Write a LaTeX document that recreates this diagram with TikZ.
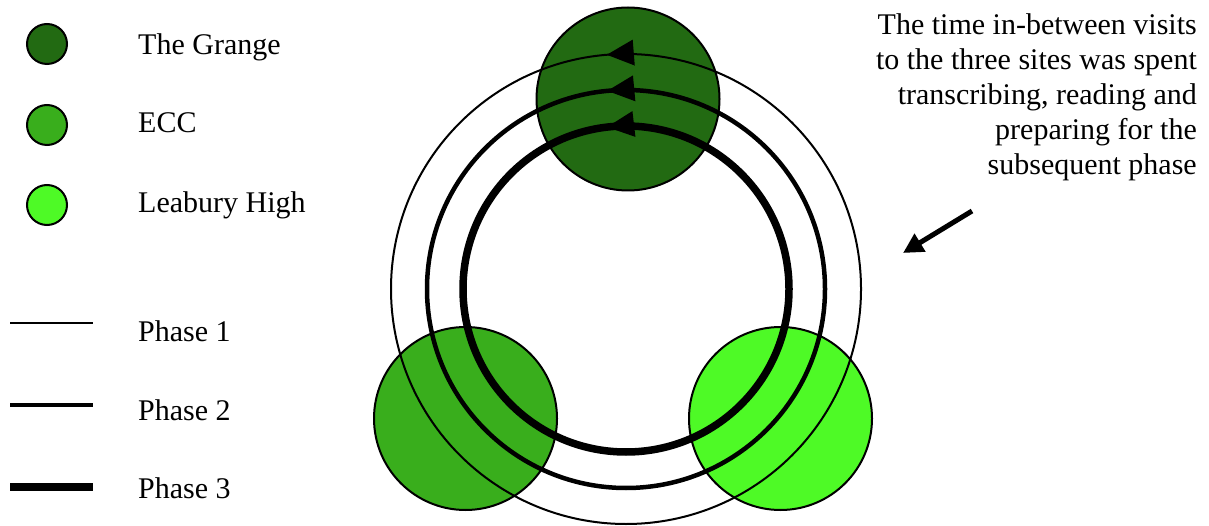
\documentclass[tikz,border=0pt]{standalone}
\usepackage{fontspec}
\setmainfont{Liberation Serif}
\usetikzlibrary{arrows.meta,decorations.markings}
\definecolor{grange}{RGB}{34,106,18}
\definecolor{ecc}{RGB}{57,174,28}
\definecolor{leabury}{RGB}{78,250,38}
\begin{document}
\begin{tikzpicture}[x=1pt,y=1pt,
  site/.style={circle,draw=black,line width=2pt,inner sep=0pt,minimum size=183pt},
  legsite/.style={circle,draw=black,line width=2pt,inner sep=0pt,minimum size=40pt},
  lab/.style={anchor=base west,inner sep=0pt,font=\fontsize{30}{35}\selectfont},
  phaseone/.style={line width=2pt},
  phasetwo/.style={line width=4.5pt},
  phasethree/.style={line width=7.5pt},
  tip/.style={decoration={markings,mark=at position #1 with {\arrow[line width=0pt]{Triangle[length=27pt,width=26pt]}}},postaction={decorate}}
]
\useasboundingbox (0,0) rectangle (1209,525);
% sites
\node[site,fill=grange] (grange) at (628,426) {};
\node[site,fill=ecc] (ecc) at (465.5,106.5) {};
\node[site,fill=leabury] (leabury) at (780.5,106.5) {};
% rings
\coordinate (c) at (626,236);
\draw[phaseone,tip=0.263] (c) circle[radius=235];
\draw[phasetwo,tip=0.265] (c) circle[radius=199];
\draw[phasethree,tip=0.2685] (c) circle[radius=163];
% legend
\node[legsite,fill=grange] (lg1) at (47,481) {};
\node[legsite,fill=ecc] (lg2) at (47,400) {};
\node[legsite,fill=leabury] (lg3) at (47,320) {};
\node[lab] (t1) at (138,470) {The Grange};
\node[lab] (t2) at (138,392) {ECC};
\node[lab] (t3) at (138,312) {Leabury High};
\coordinate (p1a) at (10,202); \coordinate (p1b) at (93,202);
\coordinate (p2a) at (10,120); \coordinate (p2b) at (93,120);
\coordinate (p3a) at (10,38); \coordinate (p3b) at (93,38);
\draw[phaseone] (p1a) -- (p1b);
\draw[phasetwo] (p2a) -- (p2b);
\draw[phasethree] (p3a) -- (p3b);
\node[lab] (t4) at (138,183) {Phase 1};
\node[lab] (t5) at (138,105) {Phase 2};
\node[lab] (t6) at (138,27) {Phase 3};
% note
\node[anchor=north east,inner sep=0pt,align=right,font=\fontsize{30}{35}\selectfont] (note) at (1197,512)
 {The time in-between visits\\to the three sites was spent\\transcribing, reading and\\preparing for the\\subsequent phase};
\coordinate (arrS) at (972,314);
\coordinate (arrE) at (903,272);
\draw[line width=5pt,-{Triangle[length=20pt,width=20pt]}] (arrS) -- (arrE);
\end{tikzpicture}
\end{document}
